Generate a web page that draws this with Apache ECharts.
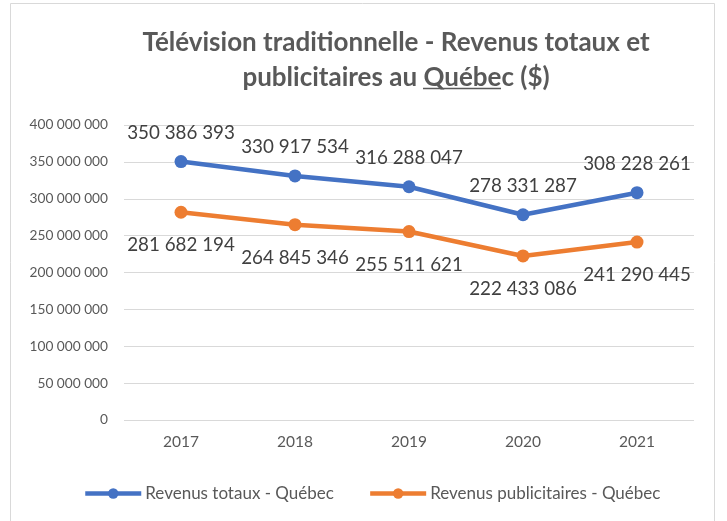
<!DOCTYPE html>
<html><head><meta charset="utf-8">
<script src="https://cdn.jsdelivr.net/npm/echarts@6/dist/echarts.min.js"></script>
<style>html,body{margin:0;padding:0;background:#fff}#c{width:727px;height:521px}</style>
</head><body><div id="c"></div>
<script>
const categories = ['2017','2018','2019','2020','2021'];
const revenusTotaux = [350386393, 330917534, 316288047, 278331287, 308228261];
const revenusPub = [281682194, 264845346, 255511621, 222433086, 241290445];
const seriesNames = ['Revenus totaux - Québec', 'Revenus publicitaires - Québec'];
const yTicks = {min: 0, max: 400000000, interval: 50000000};

const FONT = 'Lato';
const fmt = v => String(Math.round(v)).replace(/\B(?=(\d{3})+(?!\d))/g, ' ');

const chart = echarts.init(document.getElementById('c'));
chart.setOption({
  animation: false,
  textStyle: {fontFamily: FONT},
  graphic: [
    {type: 'rect', shape: {x: 10.5, y: 3.5, width: 704, height: 530}, style: {fill: 'none', stroke: '#d9d9d9', lineWidth: 1}, silent: true},
    {type: 'line', shape: {x1: 423, y1: 88.5, x2: 501, y2: 88.5}, style: {stroke: '#595959', lineWidth: 1.6}, silent: true}
  ],
  title: {
    text: '{t|Télévision traditionnelle - Revenus totaux et}\n{t|publicitaires au Québec ($)}',
    left: 391, top: 20, textAlign: 'center',
    textStyle: {rich: {t: {fontFamily: FONT, fontWeight: 'bold', fontSize: 26, color: '#595959', lineHeight: 35, align: 'center'}}}
  },
  legend: {
    top: 480, left: 78, itemGap: 34, itemWidth: 56, itemHeight: 13,
    lineStyle: {width: 4.5},
    textStyle: {fontFamily: FONT, fontSize: 17, color: '#595959', padding: [0,0,0,-1]},
    data: seriesNames
  },
  grid: {left: 124, right: 33, top: 125, bottom: 101, containLabel: false},
  xAxis: {
    type: 'category', data: categories, boundaryGap: true,
    axisLine: {show: false}, axisTick: {show: false},
    axisLabel: {fontFamily: FONT, fontSize: 15.5, color: '#595959', margin: 14}
  },
  yAxis: {
    type: 'value', min: yTicks.min, max: yTicks.max, interval: yTicks.interval,
    axisLine: {show: false}, axisTick: {show: false},
    splitLine: {lineStyle: {color: '#d9d9d9', width: 1}},
    axisLabel: {fontFamily: FONT, fontSize: 13.7, color: '#595959', margin: 16, formatter: fmt}
  },
  series: [
    {
      name: seriesNames[0], type: 'line', data: revenusTotaux,
      symbol: 'circle', symbolSize: 13, color: '#4472c4',
      lineStyle: {width: 4.5, color: '#4472c4'},
      label: {show: true, position: 'top', distance: 13, fontFamily: FONT, fontSize: 18.8, color: '#404040', formatter: p => fmt(p.value)}
    },
    {
      name: seriesNames[1], type: 'line', data: revenusPub,
      symbol: 'circle', symbolSize: 13, color: '#ed7d31',
      lineStyle: {width: 4.5, color: '#ed7d31'},
      label: {show: true, position: 'bottom', distance: 17, fontFamily: FONT, fontSize: 18.8, color: '#404040', formatter: p => fmt(p.value)}
    }
  ]
});
</script></body></html>
